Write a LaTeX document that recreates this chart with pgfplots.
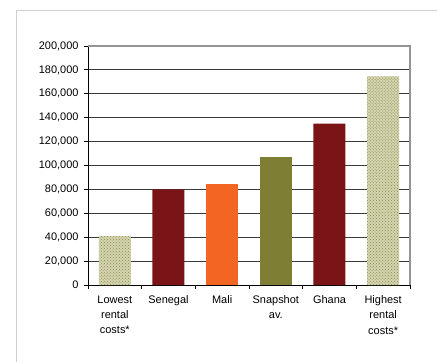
\documentclass[border=0pt]{standalone}
\usepackage{fontspec}
\setmainfont{Liberation Sans}
\usepackage{pgfplots}
\pgfplotsset{compat=1.18}
\usetikzlibrary{patterns}

\definecolor{darkred}{HTML}{7A1416}
\definecolor{maliorange}{HTML}{F26522}
\definecolor{olive}{HTML}{7E7E34}
\definecolor{patbase}{HTML}{D4D4AE}
\definecolor{patdot}{HTML}{8A8A52}
\definecolor{gridgray}{HTML}{3A3A3A}
\definecolor{bordergray}{HTML}{959595}
\definecolor{framegray}{HTML}{CFCFCF}

\begin{document}
\begin{tikzpicture}
\useasboundingbox (0,0) rectangle (437bp,362bp);
% outer chart frame
\draw[color=framegray, line width=1.2bp] (16.5bp,0) -- (16.5bp,351.5bp) -- (437bp,351.5bp);
\begin{axis}[
  at={(88bp,77bp)}, anchor=south west,
  scale only axis, width=322bp, height=239bp,
  xmin=0.5, xmax=6.5, ymin=0, ymax=200000,
  axis x line*=bottom, axis y line*=left,
  axis line style={black, line width=0.9bp, -},
  ytick={0,20000,...,200000},
  ymajorgrids, grid style={color=gridgray, line width=0.9bp},
  scaled y ticks=false,
  yticklabel style={xshift=-2bp, /pgf/number format/.cd, fixed, 1000 sep={,}, assume math mode=true},
  tick align=outside, major tick length=4bp, minor tick length=4bp,
  tick style={black, line width=0.9bp},
  xtick={1,...,6},
  every major x tick/.style={draw=none},
  minor xtick={0.5,1.5,...,6.5},
  xticklabels={{Lowest\\rental\\costs*},{Senegal},{Mali},{Snapshot\\av.},{Ghana},{Highest\\rental\\costs*}},
  ticklabel style={font=\fontsize{11}{15.5}\selectfont},
  xticklabel style={align=center, yshift=-3bp},
  ybar, bar width=32bp, bar shift=0pt,
  clip=false,
]
\addplot[draw=none, fill=patbase, postaction={pattern=crosshatch dots, pattern color=patdot}]
  coordinates {(1,41000) (6,174500)};
\addplot[draw=none, fill=darkred] coordinates {(2,80000) (5,135000)};
\addplot[draw=none, fill=maliorange] coordinates {(3,84500)};
\addplot[draw=none, fill=olive] coordinates {(4,107000)};
% plot area border on the top and right
\draw[color=bordergray, line width=1.1bp] (rel axis cs:0,1) -- (rel axis cs:1,1) -- (rel axis cs:1,0);
\end{axis}
\end{tikzpicture}
\end{document}
